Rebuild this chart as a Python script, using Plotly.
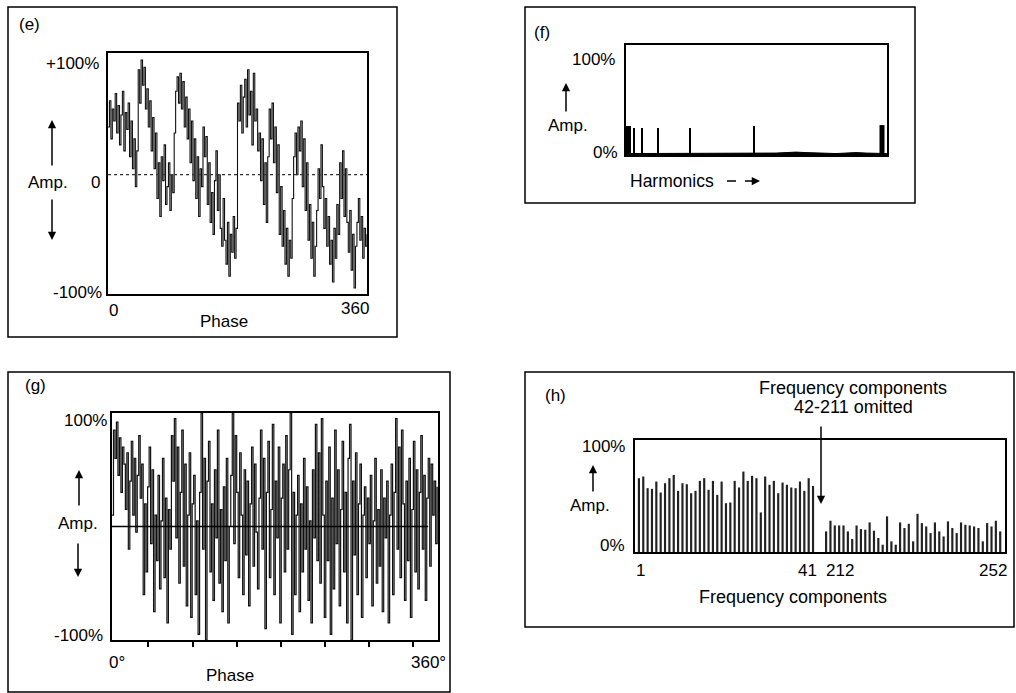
import plotly.graph_objects as go
import numpy as np

W, H = 1016, 693
def PX(x): return x / W
def PY(y): return 1 - y / H

# ---------------- data ----------------
# (e) waveform, amplitude in %
amp_e = [40, 62, 30, 55, 45, 68, 35, 58, 25, 50,
         70, 20, 52, 38, 60, 15, 45, 5, 30, -10,
         20, 88, 60, 96, 75,
         90, 55, 72, 40, 62, 20, 48, 5, 35, -20,
         10, -35, 15, -5, 25, -25, -10, 10, -30, 0,
         -15, 35, 70, 82, 60,
         85, 55, 78, 40, 65,
         30, 55, 10, 45, -5, 30, -20, 15, -35, 5,
         -10, 40, 15, 32, -25, 10, -40, -15, -50, -5,
         20, -30, 0, -45, -60, -20, -55, -75, -40, -85,
         -50, -65, -35, -70, -45,
         60, 45, 75, 35, 65,
         80, 40, 88, 50, 70, 25, 85, 45, 55, 20,
         35, -5, 30, -25, 10, -40, 15, 55, 30, 60,
         10, 40, -15, 25, -50, -10, -60, -30, -75, -45,
         -85, -55, -70, -20, 15, 35, 0, 40, 20, 45,
         -10, 30, -30, 10, -55, -25, -70, -40, -85, -60,
         -30, 5, -20, 25, -10, -45, -20, -60, -35, -75,
         -55, -90, -45, -70, -25, -50, 10, -20, 20, -35,
         5, -40, -65, -30, -80, -50, -95, -60, -40, -20,
         -55, -35, -70, -45, -60, -50]

# (f) harmonic spectrum
harmonics_f = [1, 2, 4, 8, 16, 32, 64, 128, 256]
amp_f = [30, 30, 30, 28, 28, 28, 28, 30, 31]
floor_harm = [0, 12, 24, 40, 50, 60, 70, 80, 96, 110, 120, 140, 150, 160, 170,
              180, 190, 200, 210, 220, 230, 240, 250, 261]
floor_amp = [1.5, 1.5, 2, 1.5, 2, 1.5, 2, 1.5, 1.5, 2, 1.5, 1.5, 2, 2.5, 3,
             2.5, 2, 2, 1.5, 2, 2.5, 2, 1.5, 1.5]

# (g) waveform, amplitude in %
amp_g = [10, 85, 60, 92, 45, 78, 30, 70, 55, 15, 65, -20, 40, 75, 10, 60, -5, 45, 80, 25,
         55, -60, 20, -40, 35, 70, -15, 50, -75, 10, -30, 45, -55, 5, 60, -45, 25, -85, 15, -20,
         80, 40, 95, -10, 70, -50, 30, 85, -35, 55, -70, 10, 65, -80, 20, 45, -60, 5, -95, 30,
         100, -20, 60, -100, 40, 75, -40, 20, -65, 50, -10, 85, -50, 15, -75, 35, -30, 60, -85, 0,
         45, 100, -15, 80, 30, -45, 65, 10, -60, 50, -25, 40, -70, 20, 70, -35, 55, -5, -55, 25,
         85, -20, 60, -90, 30, 75, -45, 15, 90, -60, 40, -10, 70, -85, 25, 55, -40, 80, -20, 50,
         100, -95, 30, -60, 10, 45, -75, 20, -40, 60, -20, 35, -65, 5, -85, 50, -10, 90, -30, 65,
         -50, 95, 10, -80, 40, -30, 70, -95, 25, -55, 85, -15, 50, -70, 15, 75, -40, 30, -85, 60,
         90, -100, 40, -25, 65, -60, 20, 55, -80, 10, 35, -45, 25, -15, 45, -70, 5, 60, -50, 15,
         -35, 50, -75, 25, -10, 40, -85, 10, 55, -60, 30, 95, -20, 70, -45, 85, 20, -65, 40, -30,
         60, -80, 15, 75, -40, 50, -55, 30, 80, -20, 45, -65, 25, 60, -35, 55, 10, 40, -15, 35]

# (h) frequency components
comp_low = list(range(1, 42))
amp_low = [65.9, 67.4, 57, 56.4, 62.9, 53.1, 61.4, 65.9, 68.8, 54.6,
           61.4, 60.5, 52.5, 54.6, 63.5, 65.9, 55.5, 63.5, 51, 62.9,
           43.6, 44.2, 63.5, 57.6, 71.8, 63.5, 68, 65.9, 35.3, 67.4,
           60, 63.5, 52.5, 62, 60, 57.6, 57, 62.9, 54.6, 65.9, 59]
comp_high = list(range(212, 253))
amp_high = [18.4, 27.9, 23.7, 23.7, 23.7, 18.4, 11.6, 23.7, 20.5, 19.9,
            26.4, 19, 12.5, 6.5, 31.8, 9.5, 6.5, 26.4, 21.4, 25.2,
            9.5, 34.1, 25.8, 22.8, 16.9, 26.4, 18.4, 13.9, 27.3, 21.4,
            16.9, 26.4, 24.3, 23.7, 22.8, 21.4, 9.5, 25.8, 22.8, 27.9, 18.4]

phase_e = np.linspace(0, 360, len(amp_e))
phase_g = np.linspace(9, 388, len(amp_g))
pos_low = [c - 1 for c in comp_low]
pos_high = [c - 212 + 43 for c in comp_high]

FONT = "Arial, Liberation Sans, sans-serif"

fig = go.Figure()
fig.add_trace(go.Scatter(x=phase_e, y=amp_e, mode="lines",
                         line=dict(color="#111", width=1.1, shape="hv"),
                         xaxis="x", yaxis="y"))
fig.add_trace(go.Scatter(x=floor_harm, y=floor_amp, mode="lines", fill="tozeroy",
                         line=dict(color="black", width=1), fillcolor="black",
                         xaxis="x2", yaxis="y2"))
fig.add_trace(go.Bar(x=harmonics_f, y=amp_f, width=[2, 2, 2, 2, 2, 2, 2, 2, 5],
                     marker=dict(color="black", line=dict(width=0)),
                     xaxis="x2", yaxis="y2"))
fig.add_trace(go.Scatter(x=phase_g, y=amp_g, mode="lines",
                         line=dict(color="#111", width=1.2, shape="hv"),
                         xaxis="x3", yaxis="y3"))
fig.add_trace(go.Bar(x=pos_low, y=amp_low, width=0.5,
                     marker=dict(color="#222", line=dict(width=0)),
                     xaxis="x4", yaxis="y4"))
fig.add_trace(go.Bar(x=pos_high, y=amp_high, width=0.5,
                     marker=dict(color="#222", line=dict(width=0)),
                     xaxis="x4", yaxis="y4"))

ax_style = dict(showline=True, mirror=True, linecolor="black", linewidth=1.6,
                showgrid=False, zeroline=False, showticklabels=False, ticks="")

fig.update_layout(
    width=W, height=H, margin=dict(l=0, r=0, t=0, b=0),
    paper_bgcolor="white", plot_bgcolor="white", showlegend=False,
    barmode="overlay",
    font=dict(family=FONT, size=17, color="black"),
    xaxis=dict(domain=[PX(108), PX(367)], range=[0, 360], anchor="y", **ax_style),
    yaxis=dict(domain=[PY(294), PY(53)], range=[-100, 102], anchor="x", **ax_style),
    xaxis2=dict(domain=[PX(626), PX(887)], range=[0, 261], anchor="y2", **ax_style),
    yaxis2=dict(domain=[PY(155), PY(45)], range=[0, 114], anchor="x2", **ax_style),
    xaxis3=dict(domain=[PX(112), PX(438)], range=[9, 389], anchor="y3",
                showline=True, mirror=True, linecolor="black", linewidth=1.6,
                showgrid=False, zeroline=False, showticklabels=False,
                ticks="outside", ticklen=5, tickwidth=1.5, tickcolor="black",
                tickvals=[360 / 7 * k for k in range(1, 8)]),
    yaxis3=dict(domain=[PY(640), PY(413)], range=[-100, 100], anchor="x3", **ax_style),
    xaxis4=dict(domain=[PX(635), PX(1005)], range=[-0.9, 84.1], anchor="y4", **ax_style),
    yaxis4=dict(domain=[PY(552), PY(440)], range=[0, 100], anchor="x4", **ax_style),
)

shapes = []
for (x0, y0, x1, y1) in [(8, 7, 397, 337), (525, 7, 915, 203),
                         (8, 372, 450, 692), (525, 372, 1014, 627)]:
    shapes.append(dict(type="rect", xref="paper", yref="paper",
                       x0=PX(x0), x1=PX(x1), y0=PY(y1), y1=PY(y0),
                       line=dict(color="black", width=1.5)))
shapes.append(dict(type="line", xref="x domain", yref="y", x0=0, x1=1, y0=0, y1=0,
                   line=dict(color="#333", width=1.2, dash="dot")))
shapes.append(dict(type="line", xref="x3 domain", yref="y3", x0=0, x1=0.97, y0=0, y1=0,
                   line=dict(color="black", width=1.5), layer="above"))
shapes.append(dict(type="line", xref="paper", yref="paper",
                   x0=PX(727), x1=PX(752), y0=PY(181), y1=PY(181),
                   line=dict(color="black", width=1.5, dash="dash")))
fig.update_layout(shapes=shapes)

ann = []
def txt(x, y, s, size=17, anchor="center"):
    ann.append(dict(x=PX(x), y=PY(y), xref="paper", yref="paper", text=s,
                    showarrow=False, xanchor=anchor, yanchor="middle",
                    font=dict(family=FONT, size=size, color="black")))
def arrow(hx, hy, tx, ty, size=1.1):
    ann.append(dict(x=PX(hx), y=PY(hy), xref="paper", yref="paper", text="",
                    showarrow=True, ax=tx - hx, ay=ty - hy, arrowhead=2,
                    arrowsize=size, arrowwidth=1.5, arrowcolor="black"))

# (e)
txt(29, 25, "(e)", 17)
txt(72, 63, "+100%")
txt(48, 182, "Amp.")
txt(95, 182, "0")
txt(77, 292, "-100%")
txt(113, 311, "0")
txt(355, 308, "360")
txt(224, 321, "Phase")
arrow(52, 120, 52, 167)
arrow(52, 240, 52, 198)
# (f)
txt(542, 32, "(f)", 17)
txt(593, 59, "100%")
txt(605, 153, "0%")
txt(568, 125, "Amp.")
arrow(566, 83, 566, 113)
txt(672, 181, "Harmonics", 17.5)
arrow(760, 181, 750, 181)
# (g)
txt(35, 385, "(g)", 17)
txt(85, 420, "100%")
txt(78, 635, "-100%")
txt(78, 523, "Amp.")
arrow(79, 470, 79, 507)
arrow(78, 577, 78, 542)
txt(117, 662, "0°")
txt(428, 662, "360°")
txt(230, 675, "Phase")
# (h)
txt(555, 395, "(h)", 17)
txt(853, 388, "Frequency components", 18)
txt(853, 407, "42-211 omitted", 18)
arrow(821, 504, 821, 425)
txt(603, 446, "100%")
txt(612, 545, "0%")
txt(590, 505, "Amp.")
arrow(593, 465, 593, 493)
txt(640, 570, "1")
txt(807, 570, "41")
txt(840, 570, "212")
txt(993, 570, "252")
txt(793, 597, "Frequency components", 18)
fig.update_layout(annotations=ann)

fig.write_html("out.html", config={"displayModeBar": False},
               post_script="document.body.style.margin='0';")
